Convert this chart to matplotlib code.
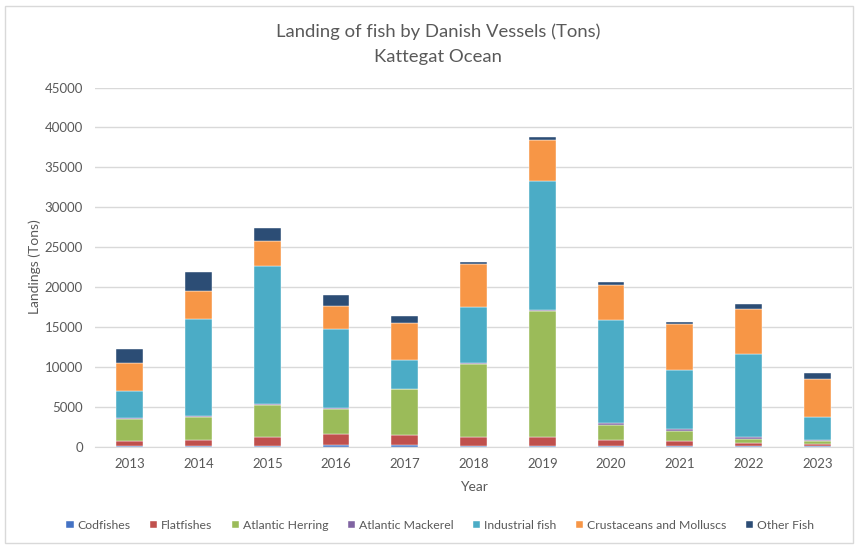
import matplotlib
matplotlib.use("Agg")
import matplotlib.pyplot as plt
import numpy as np
from matplotlib.patches import Rectangle

years = ["2013", "2014", "2015", "2016", "2017", "2018", "2019", "2020", "2021", "2022", "2023"]
codfishes = [30, 40, 40, 250, 150, 100, 60, 60, 40, 30, 40]
flatfishes = [670, 790, 1130, 1330, 1310, 1110, 1150, 770, 630, 390, 335]
atlantic_herring = [2720, 2840, 4080, 3090, 5750, 9120, 15750, 1920, 1330, 540, 290]
atlantic_mackerel = [120, 120, 150, 120, 60, 150, 130, 220, 210, 210, 210]
industrial_fish = [3380, 12200, 17180, 9900, 3600, 6980, 16160, 12900, 7450, 10500, 2880]
crustaceans = [3580, 3500, 3170, 2910, 4620, 5370, 5130, 4380, 5750, 5580, 4670]
other_fish = [1790, 2400, 1630, 1420, 840, 290, 460, 330, 210, 580, 790]

series = [
    ("Codfishes", codfishes, "#4472C4"),
    ("Flatfishes", flatfishes, "#C0504D"),
    ("Atlantic Herring", atlantic_herring, "#9BBB59"),
    ("Atlantic Mackerel", atlantic_mackerel, "#8064A2"),
    ("Industrial fish", industrial_fish, "#4BACC6"),
    ("Crustaceans and Molluscs", crustaceans, "#F79646"),
    ("Other Fish", other_fish, "#2C4D75"),
]

plt.rcParams['font.family'] = ['Lato', 'DejaVu Sans']
fig = plt.figure(figsize=(8.56, 5.45), dpi=100)
ax = fig.add_axes([0.1115, 0.1804, 0.8835, 0.659])

x = np.arange(len(years))
bottom = np.zeros(len(years))
for name, vals, col in series:
    v = np.array(vals, dtype=float)
    ax.bar(x, v, bottom=bottom, width=0.39, color=col, label=name, zorder=3,
           edgecolor='white', linewidth=0.3)
    bottom += v

ax.set_xlim(-0.5, len(years) - 0.5)
ax.set_ylim(0, 45000)
ax.set_yticks(np.arange(0, 45001, 5000))
ax.set_xticks(x)
ax.set_xticklabels(years)
ax.grid(axis='y', color='#D9D9D9', linewidth=1, zorder=0)
for s in ['top', 'right', 'left']:
    ax.spines[s].set_visible(False)
ax.spines['bottom'].set_color('#D9D9D9')
ax.tick_params(axis='both', length=0, labelsize=9.5, labelcolor='#595959')
ax.tick_params(axis='y', pad=9)
ax.tick_params(axis='x', pad=8)

ax.set_xlabel("Year", fontsize=10, color='#595959', labelpad=8)
ax.set_ylabel("Landings (Tons)", fontsize=10, color='#595959')
ax.yaxis.set_label_coords(-0.072, 0.5)

fig.text(0.512, 0.942, "Landing of fish by Danish Vessels (Tons)", ha='center', va='center',
         fontsize=13.3, color='#595959')
fig.text(0.512, 0.895, "Kattegat Ocean", ha='center', va='center',
         fontsize=13.3, color='#595959')

handles, labels = ax.get_legend_handles_labels()
leg = fig.legend(handles, labels, loc='center', bbox_to_anchor=(0.514, 0.036), ncol=7,
                 frameon=False, fontsize=8.8, handlelength=0.6, handleheight=0.6,
                 handletextpad=0.3, columnspacing=1.6, labelcolor='#595959')

fig.add_artist(Rectangle((0.006, 0.004), 0.99, 0.985, transform=fig.transFigure,
                         fill=False, edgecolor='#D9D9D9', linewidth=1))

fig.savefig("out.png", dpi=100)
